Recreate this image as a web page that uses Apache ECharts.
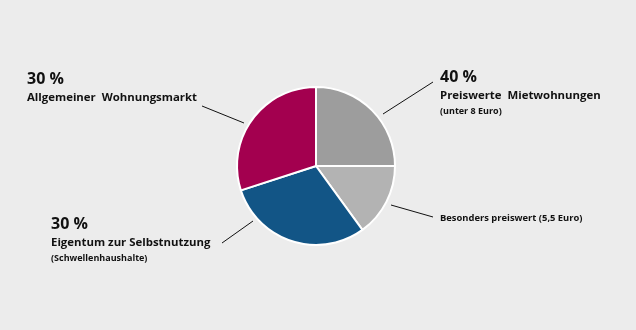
<!DOCTYPE html>
<html>
<head>
<meta charset="utf-8">
<script src="https://cdn.jsdelivr.net/npm/echarts@6/dist/echarts.min.js"></script>
<style>html,body{margin:0;padding:0;background:#ececec;}#c{width:636px;height:330px;}</style>
</head>
<body>
<div id="c"></div>
<script>
const categories = ['Preiswerte  Mietwohnungen', 'Besonders preiswert (5,5 Euro)', 'Eigentum zur Selbstnutzung', 'Allgemeiner  Wohnungsmarkt'];
const values = [25, 15, 30, 30];
const percentLabels = ['40 %', '', '30 %', '30 %'];
const subLabels = ['(unter 8 Euro)', '', '(Schwellenhaushalte)', ''];
const colors = ['#9d9d9d', '#b3b3b3', '#125586', '#a3004f'];

// label placement (layout only)
const labelPos = [
  {x: 440, y: 66, line: [[383, 114], [433, 82]]},
  {x: 440, y: 211, line: [[391, 205], [433, 217]]},
  {x: 51, y: 213, line: [[253, 221], [222, 243]]},
  {x: 27, y: 68, line: [[244, 123], [202, 106]]}
];

const chart = echarts.init(document.getElementById('c'), null, {renderer: 'canvas'});
const FONT = '"Open Sans", "Noto Sans", sans-serif';
chart.setOption({
  backgroundColor: '#ececec',
  animation: false,
  series: [{
    type: 'pie',
    center: [316, 166],
    radius: 79,
    startAngle: 90,
    clockwise: true,
    silent: true,
    itemStyle: {borderColor: '#ffffff', borderWidth: 2},
    data: categories.map((c, i) => ({name: c, value: values[i], itemStyle: {color: colors[i]}})),
    label: {
      show: true,
      position: 'outside',
      fontFamily: FONT,
      formatter: function (p) {
        const i = p.dataIndex;
        if (i === 1) return '{d|' + categories[i] + '}';
        let s = '{a|' + percentLabels[i] + '}\n{b|' + categories[i] + '}';
        if (subLabels[i]) s += '\n{c|' + subLabels[i] + '}';
        return s;
      },
      rich: {
        a: {fontFamily: FONT, fontSize: 16, fontWeight: 'bold', color: '#111111', lineHeight: 22},
        b: {fontFamily: FONT, fontSize: 11.4, fontWeight: 'bold', color: '#111111', lineHeight: 16},
        c: {fontFamily: FONT, fontSize: 9, fontWeight: 'bold', color: '#111111', lineHeight: 14},
        d: {fontFamily: FONT, fontSize: 9.4, fontWeight: 'bold', color: '#111111', lineHeight: 14}
      }
    },
    labelLine: {show: true, lineStyle: {color: '#111111', width: 1}},
    labelLayout: function (params) {
      const lp = labelPos[params.dataIndex];
      return {x: lp.x, y: lp.y, align: 'left', verticalAlign: 'top', labelLinePoints: [lp.line[0], lp.line[1], lp.line[1]]};
    }
  }]
});
</script>
</body>
</html>
